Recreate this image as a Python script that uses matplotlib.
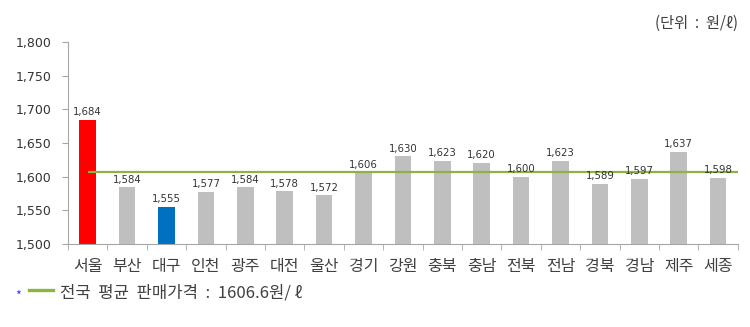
import matplotlib
matplotlib.use('Agg')
import matplotlib.pyplot as plt
import numpy as np

plt.rcParams['font.family'] = ['Noto Sans CJK KR', 'DejaVu Sans']

### data
regions = ['서울', '부산', '대구', '인천', '광주', '대전', '울산', '경기', '강원',
           '충북', '충남', '전북', '전남', '경북', '경남', '제주', '세종']
prices = [1684, 1584, 1555, 1577, 1584, 1578, 1572, 1606, 1630,
          1623, 1620, 1600, 1623, 1589, 1597, 1637, 1598]
national_avg = 1606.6
yticks = [1500, 1550, 1600, 1650, 1700, 1750, 1800]

colors = ['#BFBFBF'] * len(regions)
colors[0] = '#FF0000'
colors[2] = '#0070C0'

### figure
fig = plt.figure(figsize=(7.5, 3.27), dpi=100)
ax = fig.add_axes([0.0907, 0.254, 0.893, 0.618])

x = np.arange(len(regions))
ax.bar(x, prices, width=0.42, color=colors, zorder=2)
ax.hlines(national_avg, x[0], len(regions) - 0.5, color='#8DB43E', lw=1.6, zorder=3)

for xi, v in zip(x, prices):
    ax.text(xi, v + 4, '{:,}'.format(v), ha='center', va='bottom',
            fontsize=7.3, color='#333333', family='DejaVu Sans')

ax.set_xlim(-0.5, len(regions) - 0.5)
ax.set_ylim(1500, 1800)
ax.set_yticks(yticks)
ax.set_yticklabels(['{:,}'.format(t) for t in yticks], family='DejaVu Sans',
                   fontsize=9, color='#333333')
ax.tick_params(axis='y', length=4, color='#A6A6A6', pad=8)

ax.set_xticks(x)
ax.set_xticklabels(regions, fontsize=11.5, color='#404040')
ax.tick_params(axis='x', length=0, pad=10)
ax.set_xticks(np.arange(-0.5, len(regions)), minor=True)
ax.tick_params(axis='x', which='minor', length=4, color='#A6A6A6')

for s in ['top', 'right']:
    ax.spines[s].set_visible(False)
for s in ['left', 'bottom']:
    ax.spines[s].set_color('#A6A6A6')

### unit label
fig.text(0.984, 0.93, '(단위  :  원/ℓ)', ha='right', va='center',
         fontsize=11, color='#404040')

### legend line
fig.text(0.02, 0.095, '*', color='#3333FF', fontsize=9, va='center')
fig.add_artist(plt.Line2D([0.038, 0.07], [0.112, 0.112], color='#8DB43E', lw=2.4))
fig.text(0.08, 0.105, '전국  평균  판매가격  :  1606.6원/ ℓ', fontsize=12,
         color='#404040', va='center')

plt.savefig('out.png', dpi=100)
